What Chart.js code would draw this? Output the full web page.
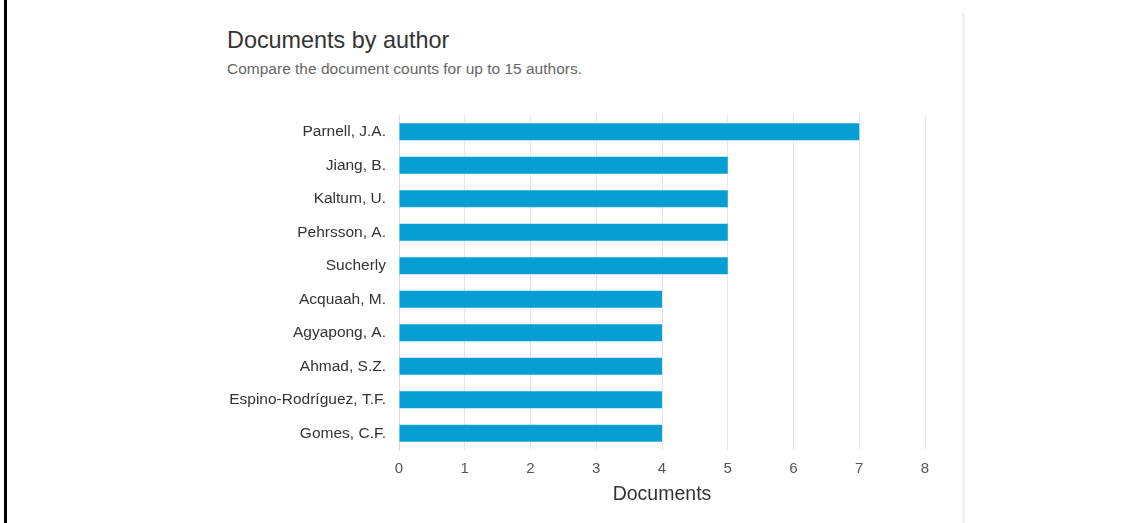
<!DOCTYPE html>
<html>
<head>
<meta charset="utf-8">
<script src="https://cdn.jsdelivr.net/npm/chart.js@4/dist/chart.umd.min.js"></script>
<style>
  html, body { margin: 0; padding: 0; background: #fff; width: 1132px; height: 523px; overflow: hidden; font-family: "Liberation Sans", Arial, sans-serif; }
  #frame { position: absolute; left: 4px; top: 0; width: 3px; height: 523px; background: #000; }
  #cardEdge { position: absolute; left: 962px; top: 13px; width: 3px; height: 510px; background: #f2f2f2; }
  #title { position: absolute; left: 227px; top: 27px; font-size: 23.4px; color: #333; white-space: nowrap; }
  #subtitle { position: absolute; left: 227px; top: 60px; font-size: 15.5px; color: #666; white-space: nowrap; }
  #wrap { position: absolute; left: 0; top: 0; width: 1132px; height: 523px; }
</style>
</head>
<body>
<div id="frame"></div>
<div id="cardEdge"></div>
<div id="title">Documents by author</div>
<div id="subtitle">Compare the document counts for up to 15 authors.</div>
<div id="wrap"><canvas id="c"></canvas></div>
<script>
const authors = ["Parnell, J.A.", "Jiang, B.", "Kaltum, U.", "Pehrsson, A.", "Sucherly",
  "Acquaah, M.", "Agyapong, A.", "Ahmad, S.Z.", "Espino-Rodríguez, T.F.", "Gomes, C.F."];
const documentCounts = [7, 5, 5, 5, 5, 4, 4, 4, 4, 4];
const xTicks = [0, 1, 2, 3, 4, 5, 6, 7, 8];
const axisTitle = "Documents";

const font = "'Liberation Sans', Arial, sans-serif";
new Chart(document.getElementById('c'), {
  type: 'bar',
  data: {
    labels: authors,
    datasets: [{
      data: documentCounts,
      backgroundColor: '#079ed3',
      borderWidth: 0,
      barPercentage: 0.51,
      categoryPercentage: 1.0
    }]
  },
  options: {
    indexAxis: 'y',
    responsive: true,
    maintainAspectRatio: false,
    animation: false,
    layout: { padding: { left: 0, right: 207, top: 115, bottom: 0 } },
    plugins: { legend: { display: false }, tooltip: { enabled: false }, title: { display: false } },
    scales: {
      x: {
        min: xTicks[0], max: xTicks[xTicks.length - 1],
        afterBuildTicks: (s) => { s.ticks = xTicks.map(v => ({ value: v })); },
        afterFit: (s) => { s.height = 73; },
        grid: { color: '#e6e6e6', drawTicks: false, lineWidth: 1 },
        border: { display: false },
        ticks: { color: '#555', font: { family: font, size: 15 }, padding: 10 },
        title: { display: true, text: axisTitle, color: '#333', font: { family: font, size: 19.5 }, padding: { top: 0, bottom: 17 } }
      },
      y: {
        afterFit: (s) => { s.width = 399; },
        grid: { display: false, drawTicks: false },
        border: { display: true, color: '#dcdcdc', width: 1 },
        ticks: { color: '#333', font: { family: font, size: 15.5 }, padding: 13 }
      }
    }
  }
});
</script>
</body>
</html>
